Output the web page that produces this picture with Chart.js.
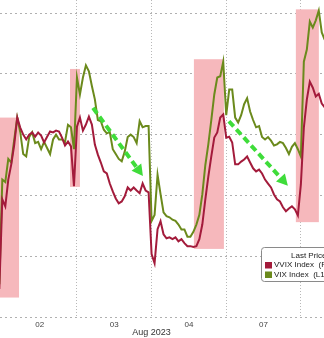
<!DOCTYPE html>
<html>
<head>
<meta charset="utf-8">
<script src="https://cdn.jsdelivr.net/npm/chart.js@4.4.0/dist/chart.umd.min.js"></script>
<style>
  html, body { margin: 0; padding: 0; background: #fff; }
</style>
</head>
<body>
<canvas id="chart" width="324" height="338"></canvas>
<script>
// Sesiones visibles: 02, 03, 04, 07 y el inicio del 08 de agosto
const dayLabels = ['02', '03', '04', '07'];
const monthLabel = 'Aug 2023';
const startDay = -0.04;   // primera lectura (en días)
const stepDay = 0.04;     // 25 lecturas por sesión

// VVIX Index (eje derecho)
const vvix = [
  88.92, 91.87, 91.64, 92.52, 93.02, 93.67, 94.56, 94.23, 94.00, 93.84,
  94.00, 94.07, 93.93, 94.07, 93.97, 93.74, 93.93, 94.10, 94.07, 94.13,
  94.10, 93.90, 93.64, 93.77, 93.61, 92.30, 94.26, 94.56, 94.13, 94.33,
  94.59, 94.33, 93.67, 93.34, 93.08, 92.79, 92.72, 92.39, 92.13, 91.90,
  91.74, 91.80, 91.97, 92.26, 92.16, 92.26, 92.16, 92.07, 92.39, 92.16,
  92.10, 90.07, 89.77, 90.89, 91.15, 90.72, 90.59, 90.62, 90.56, 90.62,
  90.49, 90.56, 90.43, 90.33, 90.33, 90.30, 90.33, 90.56, 91.05, 91.87,
  92.62, 93.28, 93.90, 94.07, 94.56, 94.66, 93.90, 93.93, 93.74, 93.02,
  93.02, 93.11, 93.18, 93.28, 93.08, 92.89, 92.79, 92.85, 92.72, 92.52,
  92.39, 92.26, 92.03, 91.87, 91.80, 91.61, 91.48, 91.57, 91.64, 91.54,
  91.34, 92.36, 94.23, 95.15, 95.74, 95.54, 95.25, 95.34, 95.02, 94.89
];

// VIX Index (eje izquierdo)
const vix = [
  14.77, 15.63, 15.61, 15.80, 15.77, 15.96, 16.14, 16.02, 15.84, 15.82,
  15.98, 16.02, 15.93, 15.94, 15.88, 15.94, 15.89, 15.84, 15.96, 16.00,
  15.96, 15.96, 15.94, 16.08, 16.06, 15.88, 16.47, 16.33, 16.47, 16.57,
  16.52, 16.40, 16.29, 16.12, 16.11, 16.04, 16.01, 16.02, 15.88, 15.84,
  15.80, 15.78, 15.86, 15.98, 16.00, 15.98, 15.93, 16.11, 16.06, 16.07,
  16.07, 15.29, 15.34, 15.67, 15.51, 15.36, 15.33, 15.32, 15.30, 15.29,
  15.26, 15.22, 15.22, 15.16, 15.16, 15.20, 15.26, 15.34, 15.51, 15.75,
  15.92, 16.12, 16.33, 16.47, 16.48, 16.60, 16.16, 16.37, 16.37, 16.14,
  16.10, 16.16, 16.25, 16.30, 16.19, 16.12, 16.06, 16.07, 15.98, 15.96,
  15.98, 15.95, 15.91, 15.92, 15.94, 15.93, 15.89, 15.84, 15.90, 15.93,
  15.88, 15.82, 16.60, 16.70, 16.93, 16.88, 16.94, 17.02, 16.84, 16.78
];

const vixGrid = [14.5, 15, 15.5, 16, 16.5, 17];

// Zonas sombreadas (días, valores del VIX)
const boxStart = [-0.1, 0.907, 2.567, 3.933];
const boxEnd = [0.224, 1.04, 2.969, 4.241];
const boxTop = [16.14, 16.54, 16.62, 17.03];
const boxBottom = [14.66, 15.57, 15.06, 15.28];

// Flechas verdes (días, valores del VIX)
const arrowFrom = [[1.215, 16.22], [3.036, 16.11]];
const arrowTo = [[1.884, 15.66], [3.826, 15.58]];

const redColor = '#a31b3b';
const greenColor = '#6b8a1c';
const fontFamily = "'Liberation Sans', Arial, sans-serif";

function toPoints(values) {
    return values.map(function(v, i) {
        return { x: startDay + i * stepDay, y: v };
    });
}

const annotations = {
    id: 'annotations',
    beforeDatasetsDraw(chart) {
        const ctx = chart.ctx;
        const xs = chart.scales.x, ys = chart.scales.y;
        ctx.save();
        ctx.fillStyle = '#f6b8bc';
        for (let i = 0; i < boxStart.length; i++) {
            const x0 = xs.getPixelForValue(boxStart[i]);
            const x1 = xs.getPixelForValue(boxEnd[i]);
            const y0 = ys.getPixelForValue(boxTop[i]);
            const y1 = ys.getPixelForValue(boxBottom[i]);
            ctx.fillRect(x0, y0, x1 - x0, y1 - y0);
        }
        ctx.restore();
    },
    afterDatasetsDraw(chart) {
        const ctx = chart.ctx;
        const xs = chart.scales.x, ys = chart.scales.y;
        ctx.save();
        ctx.strokeStyle = '#3fdc3a';
        ctx.fillStyle = '#3fdc3a';
        ctx.lineWidth = 4;
        for (let i = 0; i < arrowFrom.length; i++) {
            const ax = xs.getPixelForValue(arrowFrom[i][0]);
            const ay = ys.getPixelForValue(arrowFrom[i][1]);
            const bx = xs.getPixelForValue(arrowTo[i][0]);
            const by = ys.getPixelForValue(arrowTo[i][1]);
            const ang = Math.atan2(by - ay, bx - ax);
            const head = 11;
            const hx = bx - head * Math.cos(ang);
            const hy = by - head * Math.sin(ang);
            ctx.setLineDash([7, 4]);
            ctx.beginPath();
            ctx.moveTo(ax, ay);
            ctx.lineTo(hx, hy);
            ctx.stroke();
            ctx.setLineDash([]);
            ctx.beginPath();
            ctx.moveTo(bx, by);
            ctx.lineTo(hx + 6 * Math.sin(ang), hy - 6 * Math.cos(ang));
            ctx.lineTo(hx - 6 * Math.sin(ang), hy + 6 * Math.cos(ang));
            ctx.closePath();
            ctx.fill();
        }
        ctx.restore();
    },
    afterDraw(chart) {
        const ctx = chart.ctx;
        const xs = chart.scales.x;
        ctx.save();
        // texto del mes
        ctx.fillStyle = '#333';
        ctx.font = '9px ' + fontFamily;
        ctx.textAlign = 'center';
        ctx.textBaseline = 'middle';
        ctx.fillText(monthLabel, xs.getPixelForValue(2), 333);

        // leyenda
        const lx = 261, ly = 247, lw = 90, lh = 34;
        ctx.fillStyle = '#fff';
        ctx.strokeStyle = '#8a8a8a';
        ctx.lineWidth = 1;
        ctx.beginPath();
        ctx.roundRect(lx + 0.5, ly + 0.5, lw, lh, 3);
        ctx.fill();
        ctx.stroke();
        ctx.font = '8px ' + fontFamily;
        ctx.textAlign = 'left';
        ctx.fillStyle = '#222';
        ctx.fillText('Last Price', 291, 256);
        chart.data.datasets.forEach(function(ds, i) {
            const yy = 265 + i * 9.5;
            ctx.fillStyle = ds.borderColor;
            ctx.fillRect(265, yy - 3, 7, 6.5);
            ctx.fillStyle = '#222';
            ctx.fillText(ds.label, 274, yy);
        });
        ctx.restore();
    }
};

const ctx = document.getElementById('chart').getContext('2d');
new Chart(ctx, {
    type: 'line',
    data: {
        datasets: [
            {
                label: 'VVIX Index  (R1)',
                data: toPoints(vvix),
                yAxisID: 'y1',
                borderColor: redColor,
                borderWidth: 2,
                pointRadius: 0,
                tension: 0
            },
            {
                label: 'VIX Index  (L1)',
                data: toPoints(vix),
                yAxisID: 'y',
                borderColor: greenColor,
                borderWidth: 2,
                pointRadius: 0,
                tension: 0
            }
        ]
    },
    options: {
        responsive: false,
        animation: false,
        layout: { padding: 0 },
        plugins: {
            legend: { display: false },
            tooltip: { enabled: false }
        },
        scales: {
            x: {
                type: 'linear',
                min: -0.031,
                max: 4.31,
                afterBuildTicks: function(s) {
                    s.ticks = [0.5, 1, 1.5, 2, 2.5, 3, 3.5, 4].map(function(v) { return { value: v }; });
                },
                afterFit: function(s) { s.height = 21; },
                ticks: {
                    autoSkip: false,
                    maxRotation: 0,
                    padding: 3,
                    color: '#444',
                    font: { size: 8, family: fontFamily },
                    callback: function(value) {
                        return Number.isInteger(value) ? '' : dayLabels[Math.floor(value)];
                    }
                },
                grid: {
                    drawTicks: false,
                    color: function(c) {
                        return c.tick && Number.isInteger(c.tick.value) ? '#b8b8b8' : 'rgba(0,0,0,0)';
                    }
                },
                border: { display: false, dash: [1, 2] }
            },
            y: {
                position: 'left',
                min: 14.5,
                max: 17.107,
                afterBuildTicks: function(s) {
                    s.ticks = vixGrid.map(function(v) { return { value: v }; });
                },
                afterFit: function(s) { s.width = 0; },
                ticks: { display: false },
                grid: { drawTicks: false, color: '#b0b0b0' },
                border: { display: false, dash: [2, 3] }
            },
            y1: {
                position: 'right',
                display: false,
                min: 88,
                max: 98.426
            }
        }
    },
    plugins: [annotations]
});
</script>
</body>
</html>
